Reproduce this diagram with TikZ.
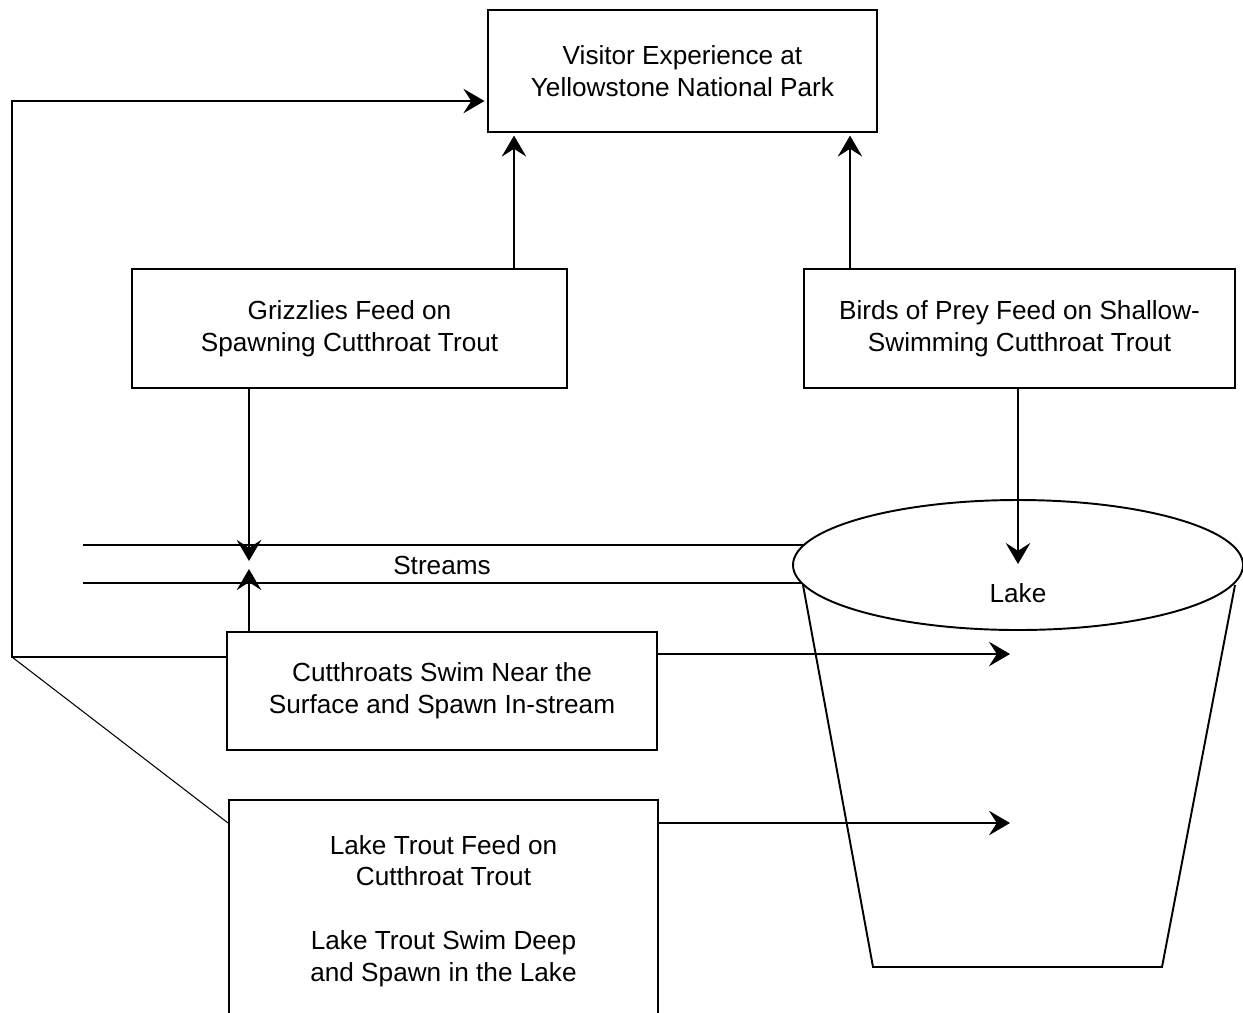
\documentclass[tikz,border=0pt]{standalone}
\usepackage{fontspec}
\setmainfont{Liberation Sans}
\usetikzlibrary{arrows.meta}
\usetikzlibrary{positioning}

\begin{document}
\begin{tikzpicture}[line join=miter,x=0.02cm,y=-0.02cm,
  >={Stealth[length=12pt,width=14pt,inset=4.5pt]},
  box/.style={draw,line width=1.1pt,rectangle,align=center,inner sep=0pt,
    font=\fontsize{14.9}{18.1}\selectfont},
  thinline/.style={line width=0.6pt},
  thickline/.style={line width=1.1pt}]
\clip (0,0) rectangle (1243,1012);
% boxes
\node[box,minimum width=7.78cm,minimum height=2.44cm] (visitor) at (682.5,71) {Visitor Experience at\\Yellowstone National Park};
\node[box,minimum width=8.7cm,minimum height=2.38cm] (griz) at (349.5,328.5) {Grizzlies Feed on\\Spawning Cutthroat Trout};
\node[box,minimum width=8.62cm,minimum height=2.38cm] (birds) at (1019.5,328.5) {Birds of Prey Feed on Shallow-\\Swimming Cutthroat Trout};
\node[box,minimum width=8.6cm,minimum height=2.36cm] (cut) at (442,691) {Cutthroats Swim Near the\\Surface and Spawn In-stream};
\node[box,minimum width=8.58cm,minimum height=4.44cm] (lt) at (443.5,911) {Lake Trout Feed on\\Cutthroat Trout\\[18.1pt]Lake Trout Swim Deep\\and Spawn in the Lake};
% streams
\coordinate (st1) at (83,545);
\coordinate (st2) at (83,583);
\draw[thickline] (st1) -- (1018,545);
\draw[thickline] (st2) -- (1018,583);
\node[font=\fontsize{14.9}{18.1}\selectfont] (streams) at (442,565) {Streams};
% lake
\draw[thickline] (803,585) -- (873,967) -- (1162,967) -- (1235,585);
\draw[thickline,fill=white] (1018,565) ellipse (225 and 65);
\node[font=\fontsize{14.9}{18.1}\selectfont] (laketext) at (1018,593) {Lake};
% arrows to visitor
\coordinate (g1) at (514,0);
\coordinate (b1) at (850,0);
\draw[thinline,->,shorten >=1.5pt] (g1 |- griz.north) -- (g1 |- visitor.south);
\draw[thinline,->,shorten >=1.5pt] (b1 |- birds.north) -- (b1 |- visitor.south);
% arrows to streams
\coordinate (s1) at (249,561);
\coordinate (s2) at (249,569);
\draw[thickline,->] (s1 |- griz.south) -- (s1);
\draw[thickline,->] (s2 |- cut.north) -- (s2);
% arrows to lake
\coordinate (l1) at (1018,564);
\coordinate (c1) at (1010,654);
\coordinate (c2) at (1010,823);
\draw[thinline,->] (l1 |- birds.south) -- (l1);
\draw[thinline,->] (c1 -| cut.east) -- (c1);
\draw[thinline,->] (c2 -| lt.east) -- (c2);
% feedback
\coordinate (corner) at (12,657);
\coordinate (corner2) at (12,101);
\draw[thinline,->,shorten >=1.5pt] (corner -| cut.west) -- (corner) -- (corner2) -- (corner2 -| visitor.west);
\draw[thinline] (corner) -- (c2 -| lt.west);
\end{tikzpicture}
\end{document}
